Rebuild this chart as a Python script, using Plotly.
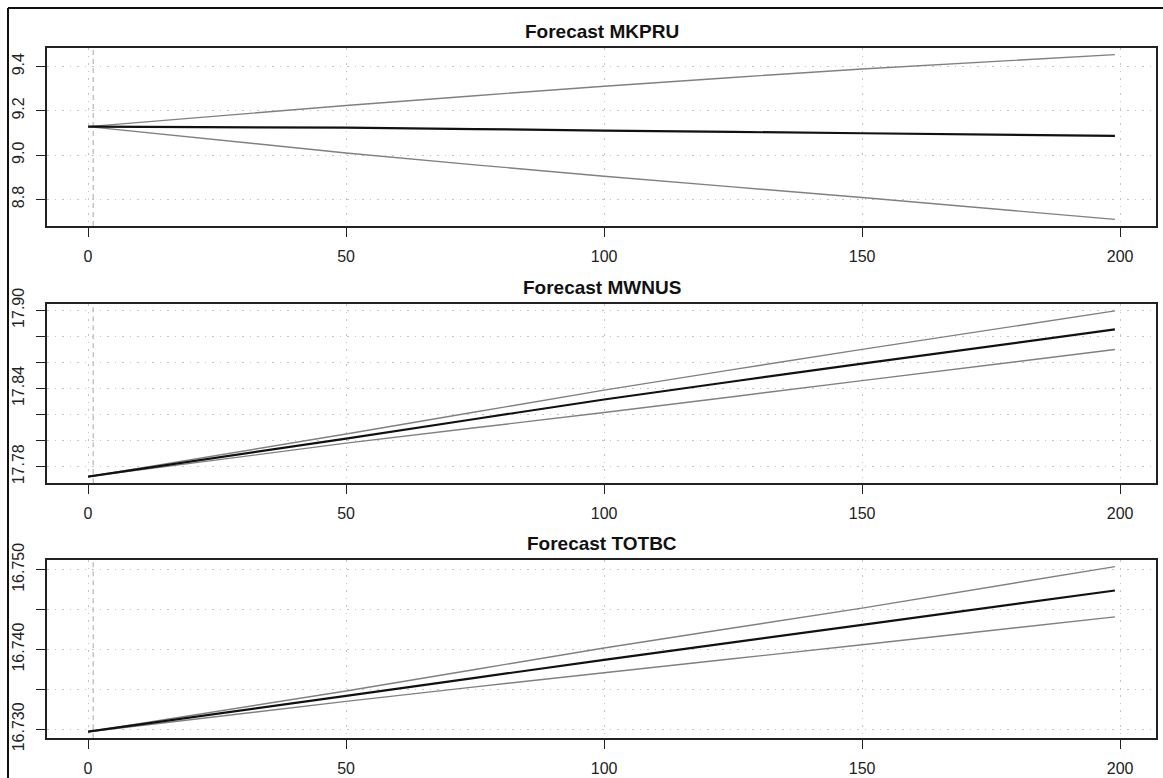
import plotly.graph_objects as go

# ---------------- data ----------------
steps = [0, 50, 100, 150, 199]

titles = ["Forecast MKPRU", "Forecast MWNUS", "Forecast TOTBC"]

mkpru_mean = [9.129, 9.124, 9.111, 9.099, 9.087]
mkpru_upper = [9.129, 9.224, 9.311, 9.389, 9.454]
mkpru_lower = [9.129, 9.010, 8.905, 8.809, 8.710]

mwnus_mean = [17.7723, 17.8015, 17.8315, 17.8590, 17.8853]
mwnus_upper = [17.7723, 17.8050, 17.8387, 17.8700, 17.8995]
mwnus_lower = [17.7723, 17.7980, 17.8215, 17.8460, 17.8699]

totbc_mean = [16.7297, 16.7342, 16.7387, 16.7431, 16.7474]
totbc_upper = [16.7297, 16.7348, 16.7402, 16.7452, 16.7504]
totbc_lower = [16.7297, 16.7335, 16.7371, 16.7406, 16.7441]

x_ticks = [0, 50, 100, 150, 200]
mkpru_yticks = [8.8, 9.0, 9.2, 9.4]
mkpru_ylabels = ["8.8", "9.0", "9.2", "9.4"]
mwnus_yticks = [17.78, 17.80, 17.82, 17.84, 17.86, 17.88, 17.90]
mwnus_ylabels = ["17.78", "", "", "17.84", "", "", "17.90"]
totbc_yticks = [16.730, 16.735, 16.740, 16.745, 16.750]
totbc_ylabels = ["16.730", "", "16.740", "", "16.750"]

forecast_origin = 1

# ---------------- layout ----------------
W, H = 1163, 778
FONT = "Liberation Sans, Arial, Helvetica, sans-serif"

panels = [
    (mkpru_mean, mkpru_upper, mkpru_lower, mkpru_yticks, mkpru_ylabels, 48, 226),
    (mwnus_mean, mwnus_upper, mwnus_lower, mwnus_yticks, mwnus_ylabels, 304.3, 483.3),
    (totbc_mean, totbc_upper, totbc_lower, totbc_yticks, totbc_ylabels, 560, 738.3),
]

x_left, x_right = 47, 1156

def r_range(vals):
    lo, hi = min(vals), max(vals)
    pad = (hi - lo) * 0.04
    return [lo - pad, hi + pad]

fig = go.Figure()
layout = dict(
    width=W, height=H,
    margin=dict(l=0, r=0, t=0, b=0, autoexpand=False),
    paper_bgcolor="white", plot_bgcolor="white",
    showlegend=False,
    font=dict(family=FONT, size=16, color="#222"),
)
annotations = []
shapes = []

xr = r_range(steps)
GRID = dict(showgrid=True, gridcolor="#c4c4c4", griddash="1.5px,6px", gridwidth=1.3)

for i, (mean, up, lo, yt, yl, top, bot) in enumerate(panels):
    n = i + 1
    xa = "x" if n == 1 else f"x{n}"
    ya = "y" if n == 1 else f"y{n}"
    xkey = "xaxis" if n == 1 else f"xaxis{n}"
    ykey = "yaxis" if n == 1 else f"yaxis{n}"

    for series, col, wid in ((up, "#808080", 1.4), (lo, "#808080", 1.4), (mean, "#111111", 2.2)):
        fig.add_trace(go.Scatter(x=steps, y=series, mode="lines", xaxis=xa, yaxis=ya,
                                 line=dict(color=col, width=wid, shape="spline", smoothing=0.8),
                                 hoverinfo="skip"))

    layout[xkey] = dict(
        domain=[x_left / W, x_right / W], anchor=ya, range=xr, automargin=False,
        tickmode="array", tickvals=x_ticks, ticktext=[str(v) for v in x_ticks],
        ticks="outside", ticklen=9, tickwidth=1.3, tickcolor="#222",
        ticklabelstandoff=6,
        showline=True, linecolor="#222", linewidth=1.5, mirror=True,
        zeroline=False, tickfont=dict(size=16, color="#222", family=FONT),
        **GRID,
    )
    layout[ykey] = dict(
        domain=[1 - bot / H, 1 - top / H], anchor=xa, range=r_range(up + lo + mean),
        automargin=False,
        tickmode="array", tickvals=yt, ticktext=yl,
        ticks="outside", ticklen=9, tickwidth=1.3, tickcolor="#222",
        tickangle=-90, ticklabelstandoff=6,
        showline=True, linecolor="#222", linewidth=1.5, mirror=True,
        zeroline=False, tickfont=dict(size=16, color="#222", family=FONT),
        **GRID,
    )

    shapes.append(dict(type="line", xref=xa, yref=f"{ya} domain",
                       x0=forecast_origin, x1=forecast_origin, y0=0, y1=1,
                       line=dict(color="#bdbdbd", width=1.3, dash="5px,4px"), layer="below"))

    annotations.append(dict(
        text=f"<b>{titles[i]}</b>", xref="paper", yref="paper",
        x=(x_left + x_right) / 2 / W, y=1 - (top - 17) / H,
        xanchor="center", yanchor="middle", showarrow=False,
        font=dict(family=FONT, size=19, color="#111"),
    ))

# outer frame (top and left edges visible in the reference)
shapes.append(dict(type="line", xref="paper", yref="paper",
                   x0=8 / W, x1=1.0, y0=1 - 8 / H, y1=1 - 8 / H,
                   line=dict(color="#111", width=2)))
shapes.append(dict(type="line", xref="paper", yref="paper",
                   x0=8 / W, x1=8 / W, y0=0, y1=1 - 8 / H,
                   line=dict(color="#111", width=2)))

layout["annotations"] = annotations
layout["shapes"] = shapes
fig.update_layout(**layout)

fig.write_html("out.html", config={"displayModeBar": False},
               post_script="document.body.style.margin='0';")
